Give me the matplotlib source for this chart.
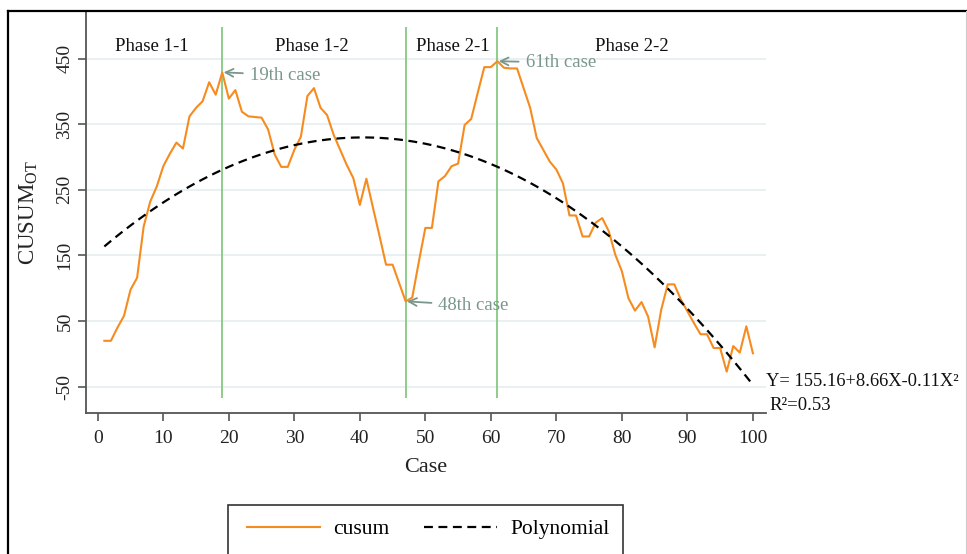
import numpy as np
import matplotlib
matplotlib.use("Agg")
import matplotlib.pyplot as plt
from matplotlib.lines import Line2D
from matplotlib.patches import Rectangle

plt.rcParams['font.family'] = ['Liberation Serif', 'DejaVu Serif']
plt.rcParams['mathtext.fontset'] = 'custom'
plt.rcParams['mathtext.rm'] = 'Liberation Serif'
plt.rcParams['axes.unicode_minus'] = False

# CUSUM of operative time, cases 1..100
cases = list(range(1, 101))
cusum = [20, 20, 40, 58, 98, 116, 194, 232, 255, 286,
         305, 322, 313, 362, 375, 385, 414, 395, 429, 389,
         402, 369, 362, 361, 360, 342, 304, 285, 285, 311,
         331, 393, 405, 375, 364, 334, 311, 288, 268, 227,
         267, 223, 180, 136, 136, 108, 80, 86, 140, 192,
         192, 263, 271, 286, 290, 349, 358, 398, 437, 437,
         446, 436, 435, 435, 405, 375, 329, 311, 293, 281,
         260, 211, 211, 179, 179, 200, 207, 187, 151, 126,
         85, 66, 79, 57, 10, 67, 106, 106, 83, 65,
         47, 30, 30, 9, 9, -27, 12, 2, 42, 1]

phase_cuts = [19, 47, 61]
phase_names = ['Phase 1-1', 'Phase 1-2', 'Phase 2-1', 'Phase 2-2']
phase_label_x = [8.3, 32.6, 54.2, 81.5]
marked = [(19, '19th case'), (47, '48th case'), (61, '61th case')]
y_ticks = [-50, 50, 150, 250, 350, 450]
x_ticks = list(range(0, 101, 10))

ORANGE = '#f68b1f'
GREEN = '#7cc576'
NOTE = '#7a978c'
AXIS = '#555555'

W, H = 967, 554
fig = plt.figure(figsize=(W / 100, H / 100), dpi=100)
fig.patch.set_facecolor('white')
ax = fig.add_axes([86 / W, 1 - 413 / H, (766 - 86) / W, (413 - 12) / H])

# quadratic fit of the cusum curve
coef = np.polyfit(cases, cusum, 2)
fit = np.polyval(coef, cases)

for yt in y_ticks:
    ax.axhline(yt, color='#e4edf0', lw=1.2, zorder=0)

ax.vlines(phase_cuts, -67, 498, color=GREEN, lw=1.2, zorder=2)
ax.plot(cases, cusum, color=ORANGE, lw=1.5, zorder=3)
ax.plot(cases, fit, color='black', lw=1.6, dashes=(4, 2.5), zorder=3)

ax.set_xlim(-1.8, 102)
ax.set_ylim(-90, 521)
ax.set_xticks(x_ticks)
ax.set_yticks(y_ticks)
ax.tick_params(axis='both', colors=AXIS, length=6, width=1.2, labelcolor='#222222', labelsize=14)
ax.tick_params(axis='x', pad=6)
ax.tick_params(axis='y', pad=3)
for lab in ax.get_yticklabels():
    lab.set_rotation(90)
    lab.set_va('center')
for s in ['top', 'right']:
    ax.spines[s].set_visible(False)
for s in ['left', 'bottom']:
    ax.spines[s].set_color(AXIS)
    ax.spines[s].set_linewidth(1.3)

ax.set_xlabel('Case', fontsize=16, color='#222222', labelpad=8)
ax.set_ylabel(r'CUSUM$_{\mathrm{OT}}$', fontsize=16.5, color='#222222', labelpad=12)

for name, px in zip(phase_names, phase_label_x):
    ax.text(px, 468, name, ha='center', va='center', fontsize=13.5, color='#111111')

# arrows pointing to the change points
offsets = {19: (4.2, -4), 47: (5.0, -6), 61: (4.3, -2)}
for c, txt in marked:
    val = cusum[c - 1]
    dx, dy = offsets[c]
    ax.annotate(txt, xy=(c + 0.2, val), xytext=(c + dx, val + dy),
                ha='left', va='center', fontsize=13.5, color=NOTE,
                arrowprops=dict(arrowstyle='->', color=NOTE, lw=1.3,
                                shrinkA=3, shrinkB=0, mutation_scale=14))

fig.text(766 / W, 1 - 381 / H, 'Y= 155.16+8.66X-0.11X²', ha='left', va='center',
         fontsize=13.3, color='#111111')
fig.text(769 / W, 1 - 405 / H, 'R²=0.53', ha='left', va='center',
         fontsize=13.5, color='#111111')

# legend box, cut off by the bottom edge as in the original
fig.add_artist(Rectangle((228 / W, -0.1), (623 - 228) / W, 1 - 505 / H + 0.1,
                         transform=fig.transFigure, fill=False,
                         edgecolor='#333333', lw=1.2))
handles = [Line2D([], [], color=ORANGE, lw=1.5),
           Line2D([], [], color='black', lw=1.6, dashes=(4, 2.5))]
fig.legend(handles, ['cusum', 'Polynomial'], loc='center left',
           bbox_to_anchor=(232 / W, 1 - 529 / H), ncol=2, frameon=False,
           fontsize=15.5, handlelength=3.4, handletextpad=0.6, columnspacing=1.6,
           borderpad=0.2)

# frame of the original figure
fig.add_artist(Line2D([8 / W, 8 / W], [0, 1 - 11 / H], transform=fig.transFigure,
                      color='black', lw=1.6))
fig.add_artist(Line2D([8 / W, 1], [1 - 11 / H, 1 - 11 / H], transform=fig.transFigure,
                      color='black', lw=1.6))
fig.add_artist(Line2D([1 - 1 / W, 1 - 1 / W], [0, 1 - 11 / H], transform=fig.transFigure,
                      color='#cccccc', lw=0.8))

fig.savefig('out.png', dpi=100, facecolor='white')
